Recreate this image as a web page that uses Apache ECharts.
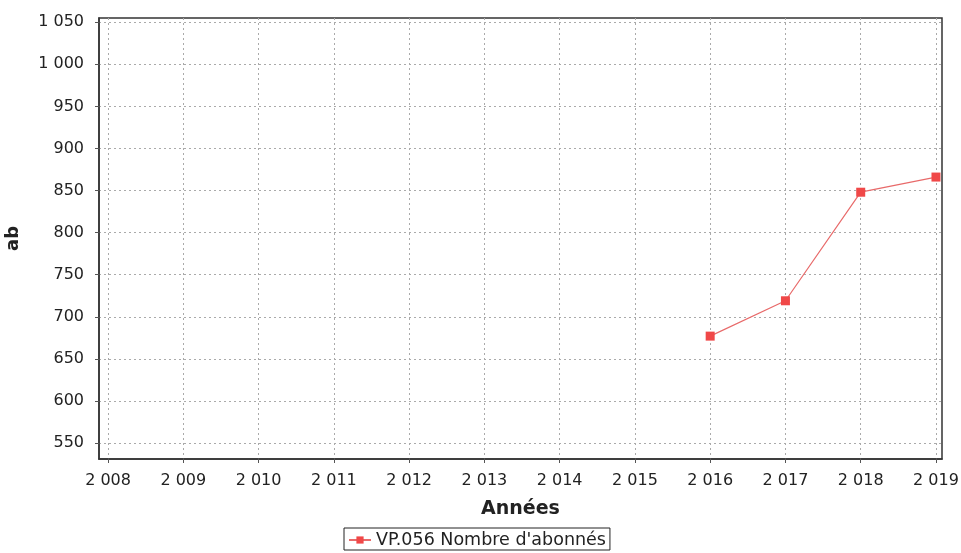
<!DOCTYPE html>
<html><head><meta charset="utf-8">
<script src="https://cdn.jsdelivr.net/npm/echarts@6/dist/echarts.min.js"></script>
<style>html,body{margin:0;padding:0;background:#fff}#c{width:961px;height:553px}</style>
</head><body><div id="c"></div>
<script>
const years = [2016, 2017, 2018, 2019];
const abonnes = [677, 719, 848, 866];
const xTicks = [2008, 2009, 2010, 2011, 2012, 2013, 2014, 2015, 2016, 2017, 2018, 2019];
const yTicks = [550, 600, 650, 700, 750, 800, 850, 900, 950, 1000, 1050];
const seriesName = "VP.056 Nombre d'abonnés";

function fmt(v){ const s = String(Math.round(v)); return s.length > 3 ? s.slice(0, s.length-3) + ' ' + s.slice(-3) : s; }

const chart = echarts.init(document.getElementById('c'));
chart.setOption({
  animation: false,
  textStyle: { fontFamily: 'DejaVu Sans' },
  grid: { left: 99, right: 19, top: 18, bottom: 94, outerBoundsMode: 'none', containLabel: false, show: true, borderColor: '#333', borderWidth: 1.5, backgroundColor: '#fff' },
  legend: {
    left: 344, top: 528, data: [seriesName],
    borderColor: '#222', borderWidth: 1, padding: [3, 4, 1, 4], itemWidth: 22, itemHeight: 9,
    textStyle: { fontSize: 17.5, color: '#222', fontFamily: 'DejaVu Sans' }, itemGap: 4
  },
  xAxis: {
    type: 'value', min: 2007.88, max: 2019.08,
    name: 'Années', nameLocation: 'middle', nameGap: 41,
    nameTextStyle: { fontSize: 19, fontWeight: 'bold', color: '#222', fontFamily: 'DejaVu Sans' },
    axisLine: { show: true, lineStyle: { color: '#333', width: 1.5 } },
    axisTick: { show: true, customValues: xTicks, length: 4, lineStyle: { color: '#555' } },
    axisLabel: { customValues: xTicks, formatter: fmt, fontSize: 16, color: '#222', margin: 14 },
    splitLine: { show: true, lineStyle: { color: '#aaa', type: [2, 3], width: 1 } }
  },
  yAxis: {
    type: 'value', min: 531, max: 1055,
    name: 'ab', nameLocation: 'middle', nameGap: 77, nameRotate: 90,
    nameTextStyle: { fontSize: 18, fontWeight: 'bold', color: '#222', fontFamily: 'DejaVu Sans' },
    axisLine: { show: true, lineStyle: { color: '#333', width: 1.5 } },
    axisTick: { show: true, customValues: yTicks, length: 4, lineStyle: { color: '#555' } },
    axisLabel: { customValues: yTicks, formatter: fmt, fontSize: 16, color: '#222', margin: 15 },
    splitLine: { show: true, lineStyle: { color: '#aaa', type: [2, 3], width: 1 } }
  },
  series: [{
    name: seriesName, type: 'line',
    data: years.map((y, i) => [y, abonnes[i]]),
    symbol: 'rect', symbolSize: 9,
    lineStyle: { color: '#e86a6a', width: 1.2 },
    itemStyle: { color: '#f04848' }
  }]
});
</script></body></html>
